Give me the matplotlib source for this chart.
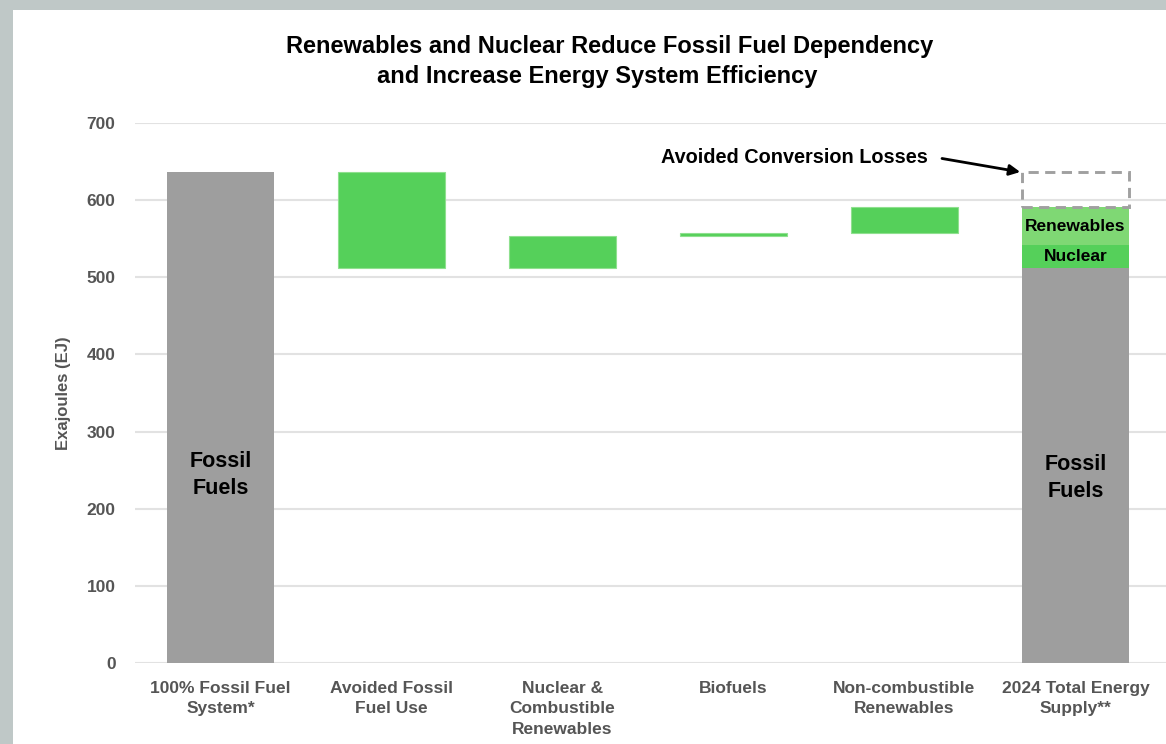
import matplotlib
matplotlib.use("Agg")
import matplotlib.pyplot as plt
from matplotlib.patches import Rectangle

plt.rcParams['font.family'] = ['Liberation Sans', 'DejaVu Sans']

# ---- data ----
categories = ["100% Fossil Fuel\nSystem*", "Avoided Fossil\nFuel Use",
              "Nuclear &\nCombustible\nRenewables", "Biofuels",
              "Non-combustible\nRenewables", "2024 Total Energy\nSupply**"]
fossil_system = 636
avoided_fossil = 124
step_values = [42, 4, 33]          # nuclear & combustible, biofuels, non-combustible
total_fossil = 512
total_nuclear = 30
total_renewables = 49
avoided_losses = 45
yticks = [0, 100, 200, 300, 400, 500, 600, 700]

GRAY = '#9e9e9e'
GREEN = '#55d05a'
LIGHT_GREEN = '#7fd874'
TICK_COLOR = '#555555'

fig = plt.figure(figsize=(11.66, 7.44), dpi=100)
fig.patch.set_facecolor('#bfc8c7')
# white panel
fig.add_artist(Rectangle((13/1166, 0), 1, 1 - 10/744, transform=fig.transFigure,
                         facecolor='white', edgecolor='none', zorder=0))

ax = fig.add_axes([135/1166, 1 - 663/744, 1 - 135/1166, (663 - 123)/744])
ax.set_facecolor('none')
x = list(range(len(categories)))
w = 0.625

# bar 1
ax.bar(x[0], fossil_system, width=w, color=GRAY, zorder=3)
# avoided fossil
ax.bar(x[1], avoided_fossil, bottom=fossil_system - avoided_fossil, width=w,
       color=GREEN, edgecolor='#8fe08f', linewidth=0.8, zorder=3)
# steps
base = fossil_system - avoided_fossil
for i, v in enumerate(step_values):
    ax.bar(x[2 + i], v, bottom=base, width=w, color=GREEN,
           edgecolor='#8fe08f', linewidth=0.8, zorder=3)
    base += v
# total stacked
ax.bar(x[5], total_fossil, width=w, color=GRAY, zorder=3)
ax.bar(x[5], total_nuclear, bottom=total_fossil, width=w, color=GREEN, zorder=3)
ax.bar(x[5], total_renewables, bottom=total_fossil + total_nuclear, width=w,
       color=LIGHT_GREEN, zorder=3)
top_total = total_fossil + total_nuclear + total_renewables
ax.add_patch(Rectangle((x[5] - w / 2, top_total), w, avoided_losses, fill=False,
                       edgecolor='#a0a0a0', linewidth=2.1, linestyle=(0, (3.5, 2.2)),
                       zorder=3))

# labels in bars
ax.text(x[0], 244, "Fossil\nFuels", ha='center', va='center', fontsize=15.5,
        fontweight='bold', color='black', linespacing=1.35, zorder=4)
ax.text(x[5], 240, "Fossil\nFuels", ha='center', va='center', fontsize=15.5,
        fontweight='bold', color='black', linespacing=1.35, zorder=4)
ax.text(x[5], total_fossil + total_nuclear + total_renewables / 2 - 1, "Renewables",
        ha='center', va='center', fontsize=12.5, fontweight='bold', zorder=4)
ax.text(x[5], total_fossil + total_nuclear / 2, "Nuclear",
        ha='center', va='center', fontsize=12.5, fontweight='bold', zorder=4)

# annotation
ax.text(4.14, 655, "Avoided Conversion Losses", ha='right', va='center',
        fontsize=14.3, fontweight='bold', color='black', zorder=5)
ax.annotate("", xy=(x[5] - w / 2 - 0.01, fossil_system + 0.5),
            xytext=(4.22, 654),
            arrowprops=dict(arrowstyle='-|>', color='black', lw=2,
                            mutation_scale=16, shrinkA=0, shrinkB=0),
            zorder=5)

ax.set_xlim(-0.5, 5.53)
ax.set_ylim(0, 700)
ax.set_yticks(yticks)
ax.set_xticks(x)
ax.set_xticklabels(categories)
ax.grid(axis='y', color='#e2e2e2', linewidth=1.5, zorder=0)
ax.set_axisbelow(True)
for s in ax.spines.values():
    s.set_visible(False)
ax.tick_params(axis='both', length=0, colors=TICK_COLOR, labelsize=12.5)
ax.tick_params(axis='y', pad=14)
ax.tick_params(axis='x', pad=13)
for lab in ax.get_xticklabels() + ax.get_yticklabels():
    lab.set_fontweight('bold')
for lab in ax.get_xticklabels():
    lab.set_linespacing(1.45)
ax.set_ylabel("Exajoules (EJ)", fontsize=12, fontweight='bold', color=TICK_COLOR,
              labelpad=11)

fig.text(610/1166, 1 - 47/744, "Renewables and Nuclear Reduce Fossil Fuel Dependency",
         ha='center', va='center', fontsize=17, fontweight='bold', color='black')
fig.text(597/1166, 1 - 76/744, "and Increase Energy System Efficiency",
         ha='center', va='center', fontsize=17, fontweight='bold', color='black')

fig.savefig("out.png", dpi=100, facecolor=fig.get_facecolor())
